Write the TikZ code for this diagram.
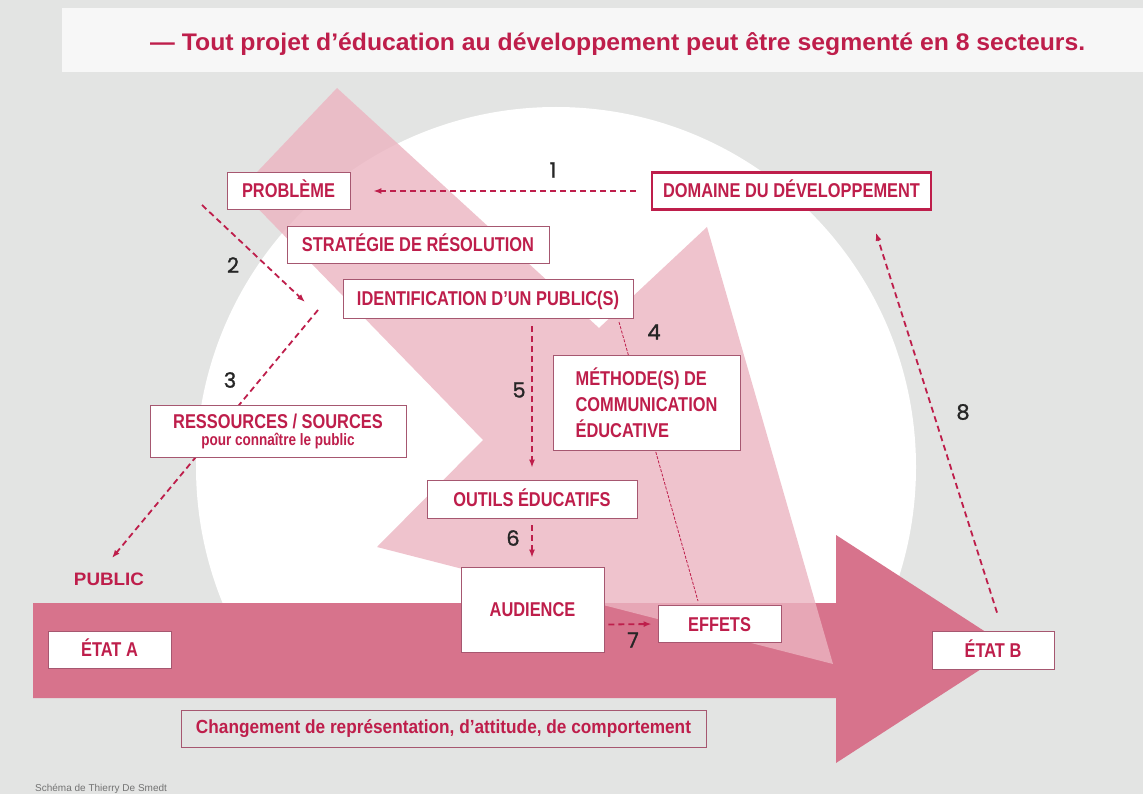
\documentclass[tikz,border=0pt]{standalone}
\usepackage{fontspec}
\usepackage{graphicx}
\setmainfont{Liberation Sans}
\newfontfamily\cf{Liberation Sans}[FakeStretch=0.82]
\newfontfamily\numf{Poppins}[FakeBold=1.2]
\usetikzlibrary{arrows.meta}
\definecolor{bggrey}{HTML}{E3E4E3}
\definecolor{crim}{HTML}{BE1E4B}
\definecolor{boxline}{HTML}{A65770}
\definecolor{darkpink}{HTML}{D7738C}
\definecolor{lightpink}{HTML}{ECB4C1}
\newcommand\fw[2]{\resizebox{#1}{\height}{#2}}
\begin{document}
\begin{tikzpicture}[x=1pt,y=-1pt,
  box/.style={draw=boxline, line width=0.8pt, fill=white, inner sep=0pt, text=crim,
    font=\cf\fontsize{20}{24}\selectfont\bfseries},
  capbox/.style={box, text height=14pt, text depth=0pt},
  dline/.style={draw=crim, line width=1.8pt, dash pattern=on 6pt off 4pt,
    -{Latex[length=8pt,width=6pt]}},
  thinline/.style={draw=crim, line width=0.8pt, dash pattern=on 3pt off 1.5pt},
  numlab/.style={font=\numf\fontsize{21}{24}\selectfont, text=black!85, inner sep=0pt},
]
% background
\fill[bggrey] (0,0) rectangle (1143,794);
\useasboundingbox (0,0) rectangle (1143,794);
\fill[white!97!black] (62,8) rectangle (1143,72);
% white circle, cut by the horizontal arrow
\begin{scope}
  \clip (0,0) rectangle (1143,650);
  \fill[white] (556,467) circle (360);
\end{scope}
% horizontal arrow
\fill[darkpink] (33,603) -- (836,603) -- (836,535) -- (1012,649) -- (836,763)
  -- (836,698) -- (33,698) -- cycle;
% diagonal arrow
\fill[lightpink, fill opacity=0.8] (337,88) -- (599,328) -- (707,227) -- (833,664)
  -- (377,547) -- (483,440) -- (240,190) -- cycle;

% title
\node[anchor=base west, inner sep=0pt, text=crim, font=\cf\fontsize{24}{28}\selectfont\bfseries]
  (title) at (150,51) {\fw{935pt}{— Tout projet d’éducation au développement peut être segmenté en 8 secteurs.}};

% free ends of connectors
\coordinate (c2s) at (202,205);
\coordinate (c2e) at (305,302);
\coordinate (c3s) at (318,310);
\coordinate (c3e) at (112,558);
\coordinate (c4s) at (619,322);
\coordinate (c4e) at (698,601);

% boxes
\node[capbox, minimum width=123pt, minimum height=37pt] (prob) at (288.5,191) {PROBLÈME};
\node[capbox, draw=crim, line width=2.4pt, minimum width=279pt, minimum height=37pt] (dom) at (791.5,191) {DOMAINE DU DÉVELOPPEMENT};
\node[capbox, minimum width=262pt, minimum height=37pt] (strat) at (418,244.5) {STRATÉGIE DE RÉSOLUTION};
\node[capbox, minimum width=290pt, minimum height=39pt] (ident) at (488,298.5) {IDENTIFICATION D’UN PUBLIC(S)};

\draw[thinline] (c4s) -- (c4e);
\draw[dline] (c3s) -- (c3e);

\node[box, minimum width=187pt, minimum height=95pt, align=left,
  font=\cf\fontsize{20}{26}\selectfont\bfseries] (meth) at (646.5,402.5)
  {MÉTHODE(S) DE\\COMMUNICATION\\ÉDUCATIVE};
\node[box, minimum width=256pt, minimum height=52pt, align=center,
  font=\cf\fontsize{20}{17}\selectfont\bfseries] (res) at (278,431)
  {RESSOURCES / SOURCES\\{\fontsize{16.5}{17}\selectfont pour connaître le public}};
\node[capbox, minimum width=210pt, minimum height=38pt] (outils) at (532,499) {OUTILS ÉDUCATIFS};
\node[capbox, minimum width=143pt, minimum height=85pt] (aud) at (532.5,609.5) {AUDIENCE};
\node[capbox, minimum width=123pt, minimum height=37pt] (effets) at (719.5,624) {EFFETS};
\node[capbox, minimum width=123pt, minimum height=37pt] (etata) at (109.5,649.5) {ÉTAT A};
\node[capbox, minimum width=122pt, minimum height=38pt] (etatb) at (993,650) {ÉTAT B};
\node[box, fill=none, minimum width=525pt, minimum height=37pt, text height=14pt, text depth=4pt,
  font=\fontsize{19}{22}\selectfont\bfseries] (chg) at (443.5,728.5)
  {\fw{495pt}{Changement de représentation, d’attitude, de comportement}};
\node[inner sep=0pt, text=crim, text height=13pt, text depth=0pt,
  font=\fontsize{18}{20}\selectfont\bfseries] (public) at (109,579) {\fw{70pt}{PUBLIC}};

% dashed connectors
\draw[dline] ([xshift=-15pt]dom.west) -- ([xshift=23pt]prob.east);
\draw[dline] (c2s) -- (c2e);
\draw[dline] ([xshift=44pt,yshift=-8pt]ident.south) -- ([yshift=12pt]outils.north);
\draw[dline] ([yshift=-7pt]outils.south) -- ([xshift=-0.5pt,yshift=9pt]aud.north);
\draw[dline] ([xshift=4pt,yshift=-15pt]aud.east) -- ([xshift=-6pt]effets.west);
\draw[dline] ([xshift=4pt,yshift=18pt]etatb.north) -- ([xshift=84.5pt,yshift=-22pt]dom.south);

% numbers
\node[numlab] (n1) at (553,170) {1};
\node[numlab] (n2) at (233,265) {2};
\node[numlab] (n3) at (230,380) {3};
\node[numlab] (n4) at (654,332) {4};
\node[numlab] (n5) at (519,390) {5};
\node[numlab] (n6) at (513,538) {6};
\node[numlab] (n7) at (633,640) {7};
\node[numlab] (n8) at (963,412) {8};

% footer
\node[anchor=base west, inner sep=0pt, text=black!55, font=\fontsize{10}{12}\selectfont]
  (foot) at (35,791) {Schéma de Thierry De Smedt};
\end{tikzpicture}
\end{document}
